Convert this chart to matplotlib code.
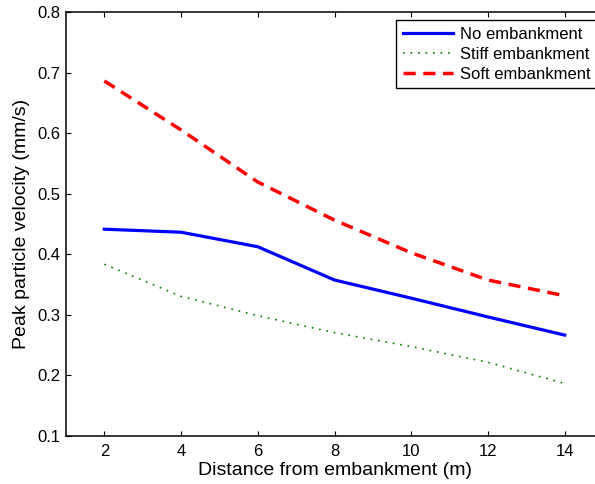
import numpy as np
import matplotlib
matplotlib.use("Agg")
import matplotlib.pyplot as plt

# distance from embankment (m)
distance = [2, 4, 6, 8, 10, 12, 14]

# peak particle velocity (mm/s)
no_embankment = [0.441, 0.436, 0.412, 0.357, 0.327, 0.296, 0.266]
stiff_embankment = [0.383, 0.330, 0.298, 0.270, 0.247, 0.221, 0.186]
soft_embankment = [0.686, 0.605, 0.519, 0.456, 0.402, 0.357, 0.331]

x_ticks = [2, 4, 6, 8, 10, 12, 14]
y_ticks = [0.1, 0.2, 0.3, 0.4, 0.5, 0.6, 0.7, 0.8]

plt.rcParams['font.family'] = ['Liberation Sans', 'DejaVu Sans']
plt.rcParams['font.size'] = 12

W, H = 595, 484
fig = plt.figure(figsize=(W / 100, H / 100), dpi=100)

# axes runs slightly past the right edge, as in the original (cropped) figure
left, right, top, bottom = 66, 603, 12, 435.5
ax = fig.add_axes([left / W, 1 - bottom / H, (right - left) / W, (bottom - top) / H])

ax.plot(distance, no_embankment, color='blue', lw=2.3, label='No embankment')
ax.plot(distance, stiff_embankment, color=(0, 0.5, 0), lw=1.2, ls=(0, (1, 3.5)),
        label='Stiff embankment')
ax.plot(distance, soft_embankment, color='red', lw=2.5, ls=(0, (3.5, 2.2)),
        label='Soft embankment')

ax.set_xlim(1, 15)
ax.set_ylim(0.1, 0.8)
ax.set_xticks(x_ticks)
ax.set_xticklabels([str(v) for v in x_ticks])
ax.set_yticks(y_ticks)
ax.set_yticklabels(['%.1f' % v for v in y_ticks])
ax.tick_params(direction='in', length=3.5, width=0.8, top=True, right=True, labelsize=12)
ax.tick_params(axis='x', pad=6)
ax.tick_params(axis='y', pad=4)
for s in ax.spines.values():
    s.set_linewidth(1.1)

ax.set_xlabel('Distance from embankment (m)', fontsize=14, labelpad=2)
ax.set_ylabel('Peak particle velocity (mm/s)', fontsize=14, labelpad=5)

leg = ax.legend(loc='upper left', bbox_to_anchor=(396 / W, 1 - 20 / H),
                bbox_transform=fig.transFigure, borderaxespad=0, fancybox=False,
                edgecolor='black', framealpha=1, handlelength=3.0,
                handletextpad=0.45, labelspacing=0.3, borderpad=0.4, fontsize=12)
leg.get_frame().set_linewidth(1.0)

fig.savefig('out.png', dpi=100)
